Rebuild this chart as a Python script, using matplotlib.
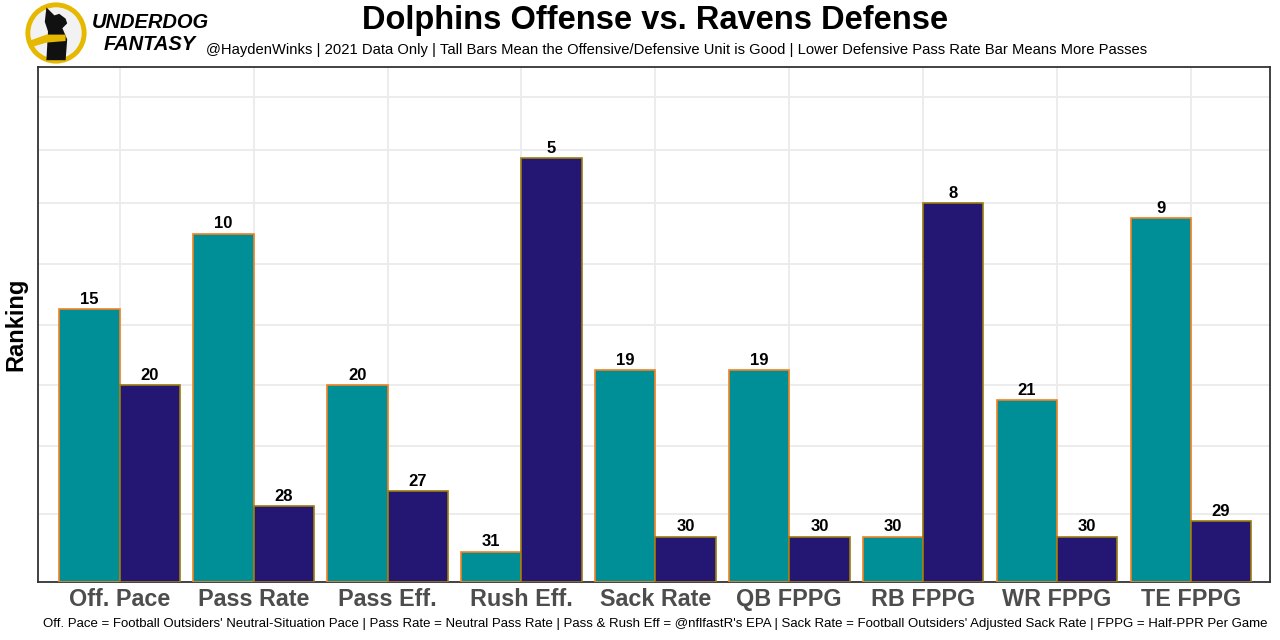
import matplotlib
matplotlib.use("Agg")
import matplotlib.pyplot as plt
from matplotlib.patches import Circle, Polygon
import numpy as np

categories = ["Off. Pace", "Pass Rate", "Pass Eff.", "Rush Eff.", "Sack Rate",
              "QB FPPG", "RB FPPG", "WR FPPG", "TE FPPG"]
offense_rank = [15, 10, 20, 31, 19, 19, 30, 21, 9]
defense_rank = [20, 28, 27, 5, 30, 30, 8, 30, 29]
max_rank = 33

title = "Dolphins Offense vs. Ravens Defense"
subtitle = ("@HaydenWinks | 2021 Data Only | Tall Bars Mean the Offensive/Defensive Unit is Good | "
            "Lower Defensive Pass Rate Bar Means More Passes")
caption = ("Off. Pace = Football Outsiders' Neutral-Situation Pace | Pass Rate = Neutral Pass Rate | "
           "Pass & Rush Eff = @nflfastR's EPA | Sack Rate = Football Outsiders' Adjusted Sack Rate | "
           "FPPG = Half-PPR Per Game")

plt.rcParams['font.family'] = ['Liberation Sans', 'DejaVu Sans']

fig = plt.figure(figsize=(12.8, 6.4), dpi=100)
ax = fig.add_axes([38/1280, 1-582/640, (1270-38)/1280, (582-67)/640])

x = np.arange(len(categories))
w = 0.45
off_h = [max_rank - r for r in offense_rank]
def_h = [max_rank - r for r in defense_rank]

teal = "#008E97"
purple = "#241773"
ax.bar(x - w/2, off_h, width=w, color=teal, edgecolor="#F58220", linewidth=1.2, zorder=3)
ax.bar(x + w/2, def_h, width=w, color=purple, edgecolor="#9E7C0C", linewidth=1.2, zorder=3)

for xi, h, r in zip(x - w/2, off_h, offense_rank):
    ax.text(xi, h + 0.15, str(r), ha="center", va="bottom", fontsize=12, fontweight="bold", zorder=4)
for xi, h, r in zip(x + w/2, def_h, defense_rank):
    ax.text(xi, h + 0.15, str(r), ha="center", va="bottom", fontsize=12, fontweight="bold", zorder=4)

ax.set_xlim(-0.61, len(categories) - 1 + 0.59)
ax.set_ylim(0, 34)
grid_y = [4.5, 9, 13, 17, 21, 25, 28.5, 32]
for gy in grid_y:
    ax.axhline(gy, color="#EBEBEB", linewidth=1.3, zorder=0)
for xi in x:
    ax.axvline(xi, color="#EBEBEB", linewidth=1.3, zorder=0)

ax.set_yticks([])
ax.set_xticks(x)
ax.set_xticklabels(categories, fontsize=16.8, fontweight="bold", color="#4D4D4D")
ax.tick_params(axis="x", length=0, pad=4.5)
for s in ax.spines.values():
    s.set_color("#333333")
    s.set_linewidth(1.3)
ax.set_ylabel("Ranking", fontsize=17, fontweight="bold")
ax.yaxis.set_label_coords(-0.0085, 0.5)

fig.text(655/1280, 1-20/640, title, ha="center", va="center", fontsize=23.5, fontweight="bold")
fig.text(677/1280, 1-50/640, subtitle, ha="center", va="center", fontsize=10.6)
fig.text(655/1280, 1-624/640, caption, ha="center", va="center", fontsize=9.5)

# logo
lax = fig.add_axes([24/1280, 1-65/640, 64/1280, 64/640])
lax.set_xlim(-1, 1); lax.set_ylim(-1, 1); lax.set_aspect("equal"); lax.axis("off")
lax.add_patch(Circle((0, 0), 0.88, facecolor="#F2F2F2", edgecolor="#E6B800", linewidth=3.5))
lax.add_patch(Polygon([(-0.3, -0.85), (-0.25, 0.05), (-0.35, 0.35), (-0.3, 0.8), (-0.05, 0.55),
                       (0.1, 0.6), (0.3, 0.45), (0.35, 0.3), (0.2, 0.15), (0.35, -0.2),
                       (0.3, -0.85)],
                      closed=True, facecolor="#111111", edgecolor="none"))
lax.add_patch(Polygon([(-0.85, -0.25), (-0.3, -0.05), (0.3, -0.05), (0.3, -0.25), (-0.3, -0.3),
                       (-0.8, -0.45)],
                      closed=True, facecolor="#E6B800", edgecolor="none"))
fig.text(150/1280, 1-23/640, "UNDERDOG", ha="center", va="center", fontsize=14.5,
         fontweight="bold", fontstyle="italic")
fig.text(150/1280, 1-45/640, "FANTASY", ha="center", va="center", fontsize=14.5,
         fontweight="bold", fontstyle="italic")

fig.savefig("out.png", dpi=100)
